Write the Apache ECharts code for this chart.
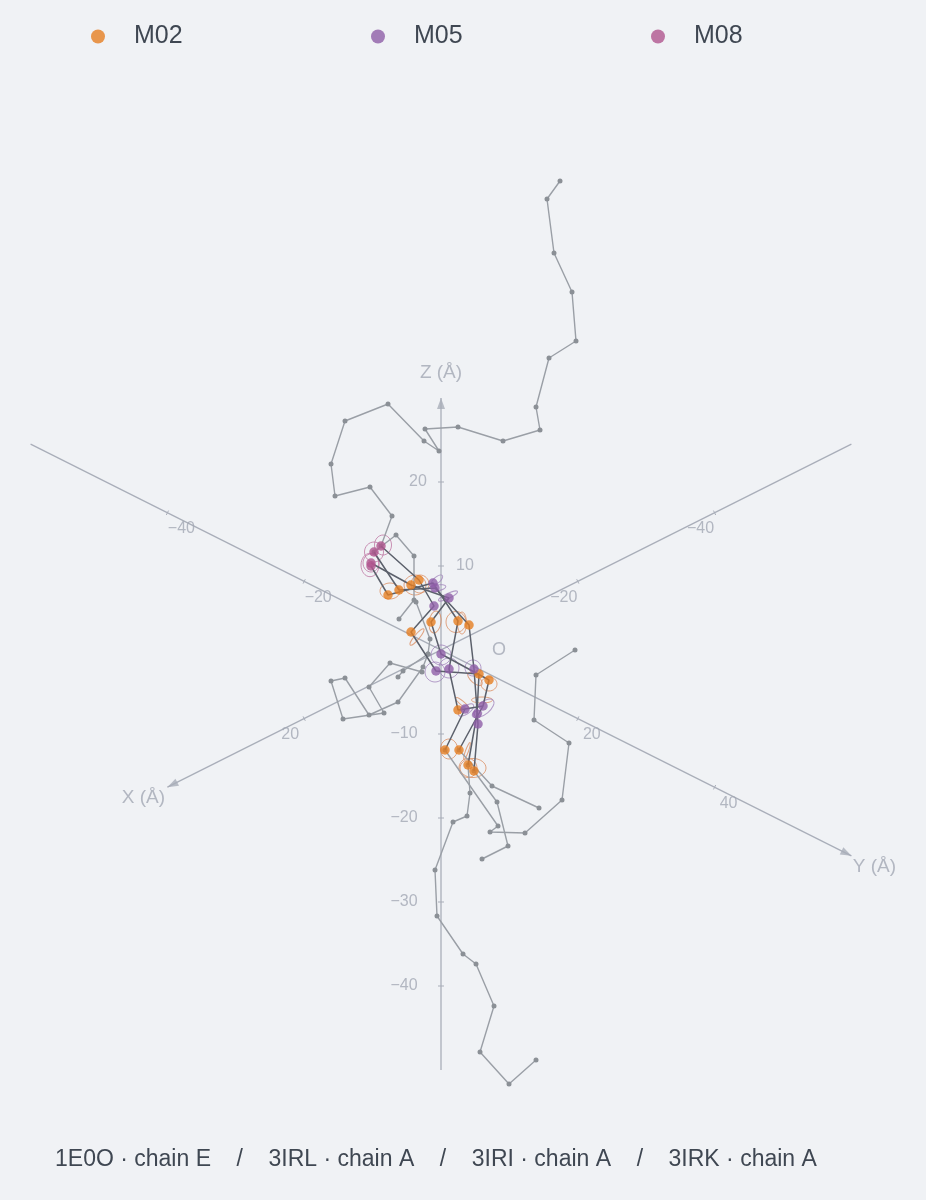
<!DOCTYPE html>
<html>
<head>
<meta charset="utf-8">
<style>html,body{margin:0;padding:0;background:#f0f2f5}#c{width:926px;height:1200px}</style>
<script src="https://cdn.jsdelivr.net/npm/echarts@6/dist/echarts.min.js"></script>
</head>
<body>
<div id="c"></div>
<script>
// ---- data: view-plane coordinates [u, v], origin at O ----
const backboneTails = [
  [[119,469],[106,451],[113,397],[131,358],[135,309],[108,292],[95,243],[99,220],[62,209],[17,223],[-16,221],[-2,199],[-17,209],[-53,246],[-96,229],[-110,186],[-106,154],[-71,163],[-49,134],[-60,104]],
  [[-42,31],[-27,50],[-27,94],[-45,115],[-67,98]],
  [[-25,48],[-11,11],[-13,-4],[-38,-21],[-43,-27]],
  [[-13,-4],[-18,-17],[-43,-52],[-72,-65],[-96,-28],[-110,-31],[-98,-69],[-57,-63],[-72,-37],[-51,-13],[-19,-22]],
  [[27,-115],[29,-143],[26,-166],[12,-172],[-6,-220],[-4,-266],[22,-304],[35,-314],[53,-356],[39,-402],[68,-434],[95,-410]],
  [[4,-100],[57,-176],[49,-182],[84,-183],[121,-150],[128,-93],[93,-70],[95,-25],[134,0]],
  [[33,-121],[56,-152],[67,-196],[41,-209]],
  [[18,-100],[51,-136],[98,-158]]
];
const strands = [
  [[-60,104],[-22,70],[-7,44],[-30,18],[-5,-21],[38,-24],[36,-64],[27,-115]],
  [[-67,98],[-42,60],[-6,62],[28,25],[33,-19],[37,-74],[33,-121]],
  [[-70,87],[-30,65],[8,52],[-10,28],[0,-4],[48,-30],[42,-56],[18,-100]],
  [[-70,84],[-53,55],[-8,67],[17,29],[8,-19],[17,-60],[24,-59],[4,-100]],
  [[24,-59],[42,-56]]
];
const m02Points = [[-22,70],[-30,65],[-42,60],[-53,55],[-30,18],[-10,28],[17,29],[28,25],[38,-24],[48,-30],[17,-60],[4,-100],[18,-100],[27,-115],[33,-121]];
const m05Points = [[-8,67],[-6,62],[8,52],[-7,44],[0,-4],[8,-19],[-5,-21],[33,-19],[24,-59],[42,-56],[36,-64],[37,-74]];
const m08Points = [[-60,104],[-67,98],[-70,87],[-70,84]];
// glyphs: [u, v, radius a, radius b, tilt degrees]
const m02Glyphs = [[-51,59,10,8,0],[-26,65,11,10,0],[-21,66,9,9,0],[-6,28,6,11,-8],[15,28,10,10.5,0],[21,27,4.5,11,0],[-24,13,10.5,2.5,50],[34,-29,9,4,-40],[48,-34,8,7,0],[21,-53,8,2,-40],[41,-50,10.5,3,0],[8,-99,8.5,10,0],[26,-101,9,1.5,70],[32,-118,13,9.5,0],[27,-118,9,9.5,0]];
const m05Glyphs = [[-4,70,7,3,40],[-4,62,9,3,10],[7,54,10.5,2.5,25],[0,-5,10,10,0],[-6,-22,10,10,0],[8,-18,10,10,0],[32,-18,8,8,0],[25,-60,9,4,35],[43,-58,12,6,40],[36,-64,5,3,20]];
const m08Glyphs = [[-58,105,8.5,10,0],[-67,98,9.5,10,0],[-71,85,9,11.7,0],[-70,87,8,9,0]];

const xTicks = [-40,-20,20];
const yTicks = [-40,-20,20,40];
const zTicks = [-40,-30,-20,-10,10,20];
const legendNames = ['M02','M05','M08'];
const footerText = ['1E0O · chain E','3IRL · chain A','3IRI · chain A','3IRK · chain A'];

// ---- projection of Å onto the view plane ----
const P = {x:[-6.84,-3.43], y:[6.84,-3.43], z:[0,8.4]};
const axisRange = {x:[-60,40], y:[-60,60], z:[-50,30]};
const proj = (a,t)=>[P[a][0]*t, P[a][1]*t];

const AXIS='#a9aeb9', LABEL='#a3a8b4', FONT='"Liberation Sans", Arial, sans-serif';
const BASE={animation:false,silent:true};

function lineSeries(a){
  return {...BASE,type:'line',z:1,symbol:'none',data:axisRange[a].map(t=>proj(a,t)),
    lineStyle:{color:AXIS,width:1.3}};
}
const arrowRot={x:116.57,y:-116.57,z:0};
function arrowSeries(a){
  const t=axisRange[a][1];
  const L=(Math.hypot(...P[a]))*t-5.5, d=P[a].map(c=>c/Math.hypot(...P[a]));
  return {...BASE,type:'scatter',z:1,symbol:'triangle',symbolSize:[8,11],symbolRotate:arrowRot[a],
    data:[[d[0]*L,d[1]*L]],itemStyle:{color:AXIS}};
}
function tickSeries(a,ticks){
  return {...BASE,type:'custom',z:1,coordinateSystem:'cartesian2d',
    data:ticks.map(t=>proj(a,t)),
    renderItem(params,api){
      const c=api.coord([api.value(0),api.value(1)]);
      const n=a==='z'?[3,0]:(a==='x'?[-1.1,-2.2]:[1.1,-2.2]);
      return {type:'line',shape:{x1:c[0]-n[0],y1:c[1]-n[1],x2:c[0]+n[0],y2:c[1]+n[1]},
        style:{stroke:AXIS,lineWidth:1}};
    }};
}
function textSeries(items,size,color){
  return {...BASE,type:'scatter',z:6,symbolSize:0,
    data:items.map(i=>({value:i.at,label:{formatter:i.text,offset:i.off||[0,0]}})),
    label:{show:true,position:'inside',fontFamily:FONT,fontSize:size,color:color}};
}
const fmt=t=>(t<0?'\u2212':'')+Math.abs(t);
const tickLabels=[
  ...xTicks.map(t=>({at:proj('x',t),text:fmt(t),off:[-14,16]})),
  ...yTicks.map(t=>({at:proj('y',t),text:fmt(t),off:[14,16]})),
  ...zTicks.map(t=>({at:proj('z',t),text:fmt(t),off:t===10?[24,0]:(t>0?[-23,0]:[-37,0])}))
];
const axisTitles=[
  {at:[proj('x',40)[0],proj('x',40)[1]],text:'X (Å)',off:[-24,11]},
  {at:[proj('y',60)[0],proj('y',60)[1]],text:'Y (Å)',off:[23,11]},
  {at:[proj('z',30)[0],proj('z',30)[1]],text:'Z (Å)',off:[0,-25]}
];
const originLabel=[{at:[0,0],text:'O',off:[58,0]}];

function glyphSeries(data,color){
  return {...BASE,type:'custom',z:2,coordinateSystem:'cartesian2d',data,
    encode:{x:0,y:1},
    renderItem(params,api){
      const c=api.coord([api.value(0),api.value(1)]);
      const s=api.size([1,1]);
      return {type:'ellipse',x:c[0],y:c[1],rotation:api.value(4)*Math.PI/180,
        shape:{cx:0,cy:0,rx:api.value(2)*s[0],ry:api.value(3)*s[1]},
        style:{fill:'none',stroke:color,lineWidth:1,opacity:0.75}};
    }};
}
function pathSeries(pts,color,width,dot){
  return {...BASE,type:'line',z:dot?3:4,data:pts,symbol:dot?'circle':'none',symbolSize:dot||0,showSymbol:!!dot,
    itemStyle:{color:dot?'#8b9096':color},lineStyle:{color,width}};
}
function pointSeries(name,data,color){
  return {...BASE,type:'scatter',z:5,name,data,symbol:'circle',symbolSize:9.5,itemStyle:{color}};
}
const COL={M02:'#e67e22',M05:'#8e5ea8',M08:'#b0558f'};

const option={
  backgroundColor:'#f0f2f5',
  animation:false,
  grid:{left:0,right:0,top:0,bottom:0,containLabel:false},
  xAxis:{type:'value',min:-441,max:485,show:false},
  yAxis:{type:'value',min:-550,max:650,show:false},
  legend:legendNames.map((n,i)=>({data:[n],left:91+280*i,top:24,icon:'circle',itemWidth:14,itemHeight:14,
    selectedMode:false,padding:0,
    textStyle:{fontFamily:FONT,fontSize:25,color:'#3f4752',padding:[2,0,0,24]}})),
  title:{text:footerText.join('    /    '),left:55,top:1148,padding:0,
    textStyle:{fontFamily:FONT,fontSize:23,fontWeight:'normal',color:'#3f4752'}},
  series:[
    lineSeries('x'),lineSeries('y'),lineSeries('z'),
    arrowSeries('x'),arrowSeries('y'),arrowSeries('z'),
    tickSeries('x',xTicks),tickSeries('y',yTicks),tickSeries('z',zTicks),
    textSeries(tickLabels,16,LABEL),
    textSeries(axisTitles,19,LABEL),
    textSeries(originLabel,18,LABEL),
    glyphSeries(m02Glyphs,'#d9885a'),
    glyphSeries(m05Glyphs,'#9d7fb8'),
    glyphSeries(m08Glyphs,'#bb6f9d'),
    ...backboneTails.map(p=>pathSeries(p,'#9a9fa6',1.4,5)),
    ...strands.map(p=>pathSeries(p,'#5b606b',1.5,0)),
    pointSeries('M02',m02Points,COL.M02),
    pointSeries('M05',m05Points,COL.M05),
    pointSeries('M08',m08Points,COL.M08)
  ]
};
echarts.init(document.getElementById('c'),null,{renderer:'canvas'}).setOption(option);
</script>
</body>
</html>
